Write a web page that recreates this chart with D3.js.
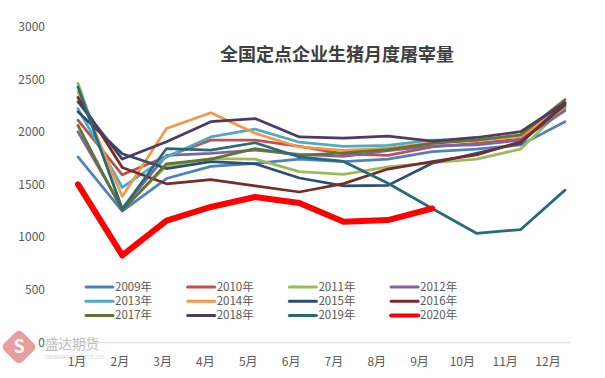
<!DOCTYPE html>
<html>
<head>
<meta charset="utf-8">
<script src="https://cdn.jsdelivr.net/npm/d3@7"></script>
<style>
  body { margin: 0; background: #fff; }
  svg { display: block; font-family: "Noto Sans CJK SC", "Noto Sans", sans-serif; }
</style>
</head>
<body>
<div id="chart"></div>
<script>
"use strict";

// categories
const months = ["1月", "2月", "3月", "4月", "5月", "6月", "7月", "8月", "9月", "10月", "11月", "12月"];
const yTicks = [0, 500, 1000, 1500, 2000, 2500, 3000];

// series values
const s2009 = [1765, 1250, 1560, 1675, 1705, 1745, 1720, 1745, 1815, 1840, 1880, 2100];
const s2010 = [2115, 1595, 1770, 1925, 1925, 1865, 1795, 1780, 1860, 1895, 1935, 2230];
const s2011 = [2465, 1265, 1680, 1750, 1745, 1625, 1600, 1670, 1710, 1745, 1840, 2245];
const s2012 = [2005, 1275, 1780, 1800, 1830, 1790, 1770, 1825, 1870, 1880, 1925, 2205];
const s2013 = [2225, 1475, 1765, 1955, 2030, 1905, 1865, 1875, 1925, 1925, 1965, 2270];
const s2014 = [2385, 1390, 2035, 2185, 1990, 1860, 1828, 1850, 1900, 1925, 1960, 2250];
const s2015 = [2195, 1795, 1655, 1720, 1700, 1565, 1490, 1495, 1705, 1800, 1895, 2280];
const s2016 = [2330, 1665, 1510, 1550, 1490, 1432, 1512, 1650, 1720, 1785, 1910, 2260];
const s2017 = [2065, 1255, 1700, 1745, 1845, 1780, 1805, 1835, 1895, 1925, 1975, 2310];
const s2018 = [2290, 1745, 1910, 2100, 2130, 1955, 1945, 1962, 1915, 1950, 2005, 2280];
const s2019 = [2430, 1270, 1845, 1830, 1900, 1765, 1722, 1515, 1275, 1040, 1075, 1450];
const s2020 = [1505, 830, 1160, 1290, 1385, 1328, 1150, 1165, 1275];

const seriesNames = ["2009年", "2010年", "2011年", "2012年", "2013年", "2014年",
                     "2015年", "2016年", "2017年", "2018年", "2019年", "2020年"];
const seriesValues = [s2009, s2010, s2011, s2012, s2013, s2014,
                      s2015, s2016, s2017, s2018, s2019, s2020];
const colors = ["#4f81bd", "#c0504d", "#9bbb59", "#8064a2", "#4bacc6", "#f79646",
                "#2c4d75", "#772c2a", "#5f7530", "#4d3b62", "#276a7c", "#ff0000"];

const W = 605, H = 378;
const svg = d3.select("#chart").append("svg")
  .attr("width", W)
  .attr("height", H);

// scales
const x = d3.scalePoint().domain(months).range([78, 565]);
const xLabel = d3.scalePoint().domain(months).range([77, 548]);
const y = d3.scaleLinear().domain([0, 3000]).range([342.7, 27]);

// watermark (logo)
const wm = svg.append("g").attr("class", "watermark");
wm.append("rect")
  .attr("x", -13).attr("y", -13).attr("width", 26).attr("height", 26)
  .attr("rx", 5)
  .attr("transform", "translate(19,347) rotate(45)")
  .attr("fill", "#e99d9d");
wm.append("text")
  .attr("x", 19).attr("y", 353)
  .attr("text-anchor", "middle")
  .attr("font-size", 18)
  .attr("font-weight", "bold")
  .attr("fill", "#fff")
  .text("S");
wm.append("text")
  .attr("x", 45).attr("y", 349)
  .attr("font-size", 13.5)
  .attr("fill", "#bdbdbd")
  .text("盛达期货");
wm.append("text")
  .attr("x", 45).attr("y", 359)
  .attr("font-size", 4.5)
  .attr("fill", "#cacaca")
  .text("SHENGDA FUTURES CO.,LTD");

// x axis line
svg.append("line")
  .attr("x1", 55).attr("x2", 570)
  .attr("y1", y(0)).attr("y2", y(0))
  .attr("stroke", "#d9d9d9")
  .attr("stroke-width", 1);

// y labels
svg.append("g").selectAll("text")
  .data(yTicks)
  .join("text")
  .attr("x", 45)
  .attr("y", d => y(d) + 4)
  .attr("text-anchor", "end")
  .attr("font-size", 12)
  .attr("fill", "#595959")
  .text(d => d);

// x labels
svg.append("g").selectAll("text")
  .data(months)
  .join("text")
  .attr("x", d => xLabel(d))
  .attr("y", 366)
  .attr("text-anchor", "middle")
  .attr("font-size", 12)
  .attr("fill", "#595959")
  .text(d => d);

// title
svg.append("text")
  .attr("x", 337)
  .attr("y", 61)
  .attr("text-anchor", "middle")
  .attr("font-size", 18)
  .attr("font-weight", "bold")
  .attr("fill", "#404040")
  .text("全国定点企业生猪月度屠宰量");

// lines
const line = d3.line()
  .x((d, i) => x(months[i]))
  .y(d => y(d));

svg.append("g").selectAll("path")
  .data(seriesValues)
  .join("path")
  .attr("d", d => line(d))
  .attr("fill", "none")
  .attr("stroke", (d, i) => colors[i])
  .attr("stroke-width", (d, i) => i === 11 ? 6 : 2.75)
  .attr("stroke-linejoin", "round")
  .attr("stroke-linecap", "round");

// legend
const legend = svg.append("g").selectAll("g")
  .data(seriesNames)
  .join("g")
  .attr("transform", (d, i) => "translate(" + (86 + (i % 4) * 101.7) + "," + (287 + Math.floor(i / 4) * 14.2) + ")");
legend.append("line")
  .attr("x1", 0).attr("x2", 27)
  .attr("stroke", (d, i) => colors[i])
  .attr("stroke-width", (d, i) => i === 11 ? 4 : 3)
  .attr("stroke-linecap", "round");
legend.append("text")
  .attr("x", 29)
  .attr("y", 4)
  .attr("font-size", 11.5)
  .attr("fill", "#595959")
  .text(d => d);
</script>
</body>
</html>
